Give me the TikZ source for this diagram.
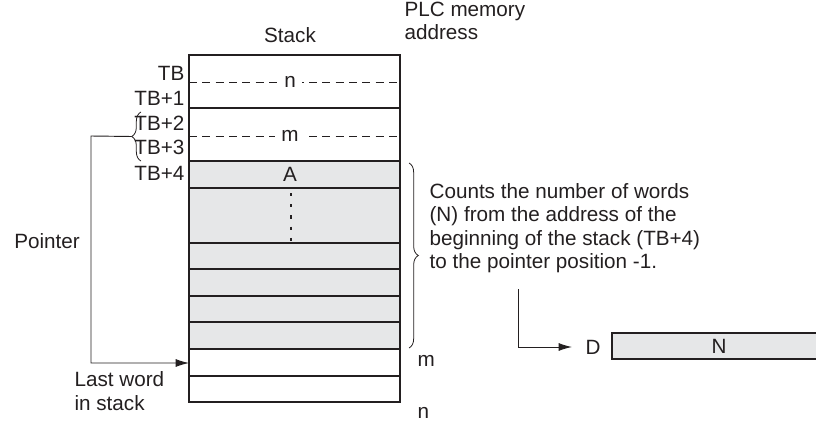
\documentclass[tikz,border=0pt]{standalone}
\usepackage{fontspec}
\setmainfont{Liberation Sans}
\usetikzlibrary{positioning,arrows.meta,decorations.pathreplacing}
\definecolor{ink}{HTML}{231F20}
\definecolor{cellgray}{HTML}{E6E7E8}
\begin{document}
\begin{tikzpicture}[x=0.75pt,y=-0.75pt,
	every node/.style={font=\fontsize{15.5}{17.5}\selectfont, text=ink, inner sep=1pt},
	cell/.style={draw=ink, line width=0.8pt},
	frame/.style={draw=ink, line width=1.5pt},
	addr/.style={anchor=east},
	brace/.style={draw=ink, line width=0.6pt, decorate, decoration={brace, amplitude=7pt}},
	link/.style={draw=ink, line width=0.7pt}]
	\useasboundingbox (0,0) rectangle (816,424);
	% stack body
	\path [fill=cellgray] (189,161) rectangle (400,349);
	\draw [cell] (189,161) rectangle (400,402);
	\foreach \y in {188,243,269,296,322,376} \draw [cell] (189,\y) -- (400,\y);
	\draw [frame] (189,349) -- (400,349);
	\draw [cell] (189,108) -- (400,108);
	\draw [frame] (189,55) rectangle (400,161);
	\foreach \y in {82,136} \draw [cell, dashed, dash pattern=on 6pt off 4pt, line width=0.6pt] (189,\y) -- (400,\y);
	\draw [ink, line width=1.5pt, dash pattern=on 2.4pt off 6pt] (291,193) -- (291,241);
	\node [fill=white, inner xsep=5pt] (n) at (290,82) {n};
	\node [fill=white, inner xsep=5pt] (m) at (290,136) {m};
	\node (A) at (290,174) {A};
	\node (stack) at (290,35) {Stack};
	\node [anchor=west, align=left] (plc) at (403,21) {PLC memory\\address};
	% addresses
	\node [addr] (tb0) at (186,73) {TB};
	\node [addr] (tb1) at (186,98) {TB+1};
	\node [addr] (tb2) at (186,123) {TB+2};
	\node [addr] (tb3) at (186,147) {TB+3};
	\node [addr] (tb4) at (186,173) {TB+4};
	\node [anchor=west] (mend) at (416,361) {m};
	\node [anchor=west] (nend) at (416,413) {n};
	% pointer
	\draw [brace] (141,161) -- (141,112) coordinate [midway, xshift=-7pt] (ptr);
	\coordinate (last) at (189,363);
	\draw [link, -{Latex[length=10pt, width=6pt]}] (ptr) -- (91,136) |- (last);
	\node (pointer) at (47,241) {Pointer};
	\node [anchor=west, align=left] (lastw) at (73,391) {Last word\\in stack};
	% count
	\draw [brace] (409,163) -- (409,348);
	\node [anchor=north west, align=left] (counts) at (428,182) {Counts the number of words\\(N) from the address of the\\beginning of the stack (TB+4)\\to the pointer position -1.};
	\node (D) at (593,347) {D};
	\draw [cell, fill=cellgray] (612,333) rectangle (820,359);
	\node (N) at (719,346) {N};
	\coordinate (cnt) at (518,289);
	\draw [link, -{Latex[length=10pt, width=6pt]}, shorten >=9pt] (cnt) |- (D.west);
\end{tikzpicture}
\end{document}
